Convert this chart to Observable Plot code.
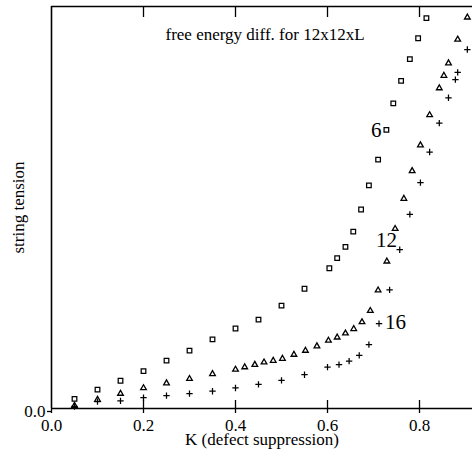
<!DOCTYPE html>
<html>
<head>
<meta charset="utf-8">
<script src="https://cdn.jsdelivr.net/npm/d3@7"></script>
<script src="https://cdn.jsdelivr.net/npm/@observablehq/plot@0.6"></script>
<style>
  html, body { margin: 0; padding: 0; background: #fff; }
  #chart svg { display: block; }
</style>
</head>
<body>
<div id="chart"></div>
<script>
// Series L = 6 (open squares)
const k6 = [0.05, 0.10, 0.15, 0.20, 0.25, 0.30, 0.35, 0.40, 0.45, 0.50, 0.55, 0.604, 0.621, 0.639, 0.656, 0.673, 0.69, 0.71, 0.728, 0.743, 0.76, 0.779, 0.797, 0.815];
const v6 = [0.024, 0.047, 0.069, 0.093, 0.119, 0.144, 0.172, 0.199, 0.221, 0.256, 0.298, 0.349, 0.374, 0.402, 0.440, 0.495, 0.555, 0.619, 0.693, 0.759, 0.815, 0.869, 0.921, 0.971];

// Series L = 12 (open triangles)
const k12 = [0.05, 0.10, 0.15, 0.20, 0.25, 0.30, 0.35, 0.40, 0.42, 0.442, 0.462, 0.482, 0.502, 0.527, 0.552, 0.577, 0.602, 0.621, 0.639, 0.657, 0.675, 0.693, 0.71, 0.729, 0.747, 0.766, 0.784, 0.802, 0.822, 0.843, 0.853, 0.863, 0.883, 0.904];
const v12 = [0.007, 0.022, 0.037, 0.051, 0.063, 0.074, 0.086, 0.097, 0.103, 0.109, 0.115, 0.119, 0.124, 0.134, 0.144, 0.155, 0.169, 0.177, 0.187, 0.198, 0.215, 0.243, 0.294, 0.366, 0.447, 0.522, 0.591, 0.655, 0.730, 0.797, 0.828, 0.859, 0.918, 0.973];

// Series L = 16 (plus signs)
const k16 = [0.05, 0.10, 0.15, 0.20, 0.25, 0.30, 0.35, 0.40, 0.45, 0.50, 0.55, 0.60, 0.625, 0.647, 0.669, 0.69, 0.712, 0.735, 0.757, 0.779, 0.802, 0.822, 0.843, 0.863, 0.878, 0.883, 0.904];
const v16 = [0.005, 0.017, 0.019, 0.027, 0.032, 0.037, 0.043, 0.051, 0.060, 0.070, 0.084, 0.103, 0.109, 0.118, 0.132, 0.159, 0.211, 0.295, 0.395, 0.483, 0.562, 0.638, 0.710, 0.773, 0.818, 0.836, 0.893];

// Inline series labels
const seriesLabels = ["6", "12", "16"];
const seriesLabelK = [0.706, 0.728, 0.748];
const seriesLabelV = [0.693, 0.418, 0.215];

const xTicks = [0.0, 0.2, 0.4, 0.6, 0.8];
const yTicks = [0.0];
const title = "free energy diff. for 12x12xL";
const xLabel = "K (defect suppression)";
const yLabel = "string tension";

const zip = (ks, vs) => ks.map((k, i) => ({k, v: vs[i]}));
const d6 = zip(k6, v6), d12 = zip(k12, v12), d16 = zip(k16, v16);
const labels = seriesLabels.map((t, i) => ({t, k: seriesLabelK[i], v: seriesLabelV[i]}));

const serif = "'Liberation Serif', 'Times New Roman', Times, serif";

const chart = Plot.plot({
  width: 472,
  height: 450,
  marginLeft: 51,
  marginRight: 0,
  marginTop: 6,
  marginBottom: 42,
  style: {fontFamily: serif, fontSize: "17px", background: "#fff", color: "#000"},
  x: {domain: [0, 0.9152]},
  y: {domain: [0, 1]},
  marks: [
    Plot.ruleY([1], {stroke: "#000", strokeWidth: 1.6}),
    Plot.axisX({anchor: "top", ticks: xTicks.slice(1), tickSize: -10, tickFormat: () => "", label: null, strokeWidth: 1.3}),
    Plot.axisX({anchor: "bottom", ticks: xTicks.slice(1), tickSize: -8, tickFormat: () => "", label: null, strokeWidth: 1.3}),
    Plot.axisX({anchor: "bottom", ticks: xTicks, tickSize: 5, tickPadding: 5, tickFormat: d3.format(".1f"), fontSize: 17,
      label: xLabel, labelAnchor: "center", labelArrow: "none", labelOffset: 36, strokeWidth: 1.3}),
    Plot.axisY({anchor: "left", ticks: yTicks, tickSize: 4, tickPadding: 2, tickFormat: d3.format(".1f"), fontSize: 17, dy: 3,
      label: yLabel, labelAnchor: "center", labelArrow: "none", labelOffset: 40, strokeWidth: 1.3}),
    Plot.ruleX([0], {stroke: "#000", strokeWidth: 1.6}),
    Plot.ruleY([0], {stroke: "#000", strokeWidth: 1.6}),
    Plot.dot(d6, {x: "k", y: "v", symbol: "square", r: 2.6, fill: "none", stroke: "#000", strokeWidth: 1.25}),
    Plot.dot(d12, {x: "k", y: "v", symbol: "triangle", r: 2.1, fill: "none", stroke: "#000", strokeWidth: 1.3}),
    Plot.dot(d16, {x: "k", y: "v", symbol: "plus", r: 2.2, fill: "none", stroke: "#000", strokeWidth: 1.25}),
    Plot.text(labels, {x: "k", y: "v", text: "t", fontSize: 21, fill: "#000"}),
    Plot.text([title], {frameAnchor: "top", dy: 21, dx: 3, fontSize: 17, fill: "#000"})
  ]
});
document.getElementById("chart").appendChild(chart);
</script>
</body>
</html>
